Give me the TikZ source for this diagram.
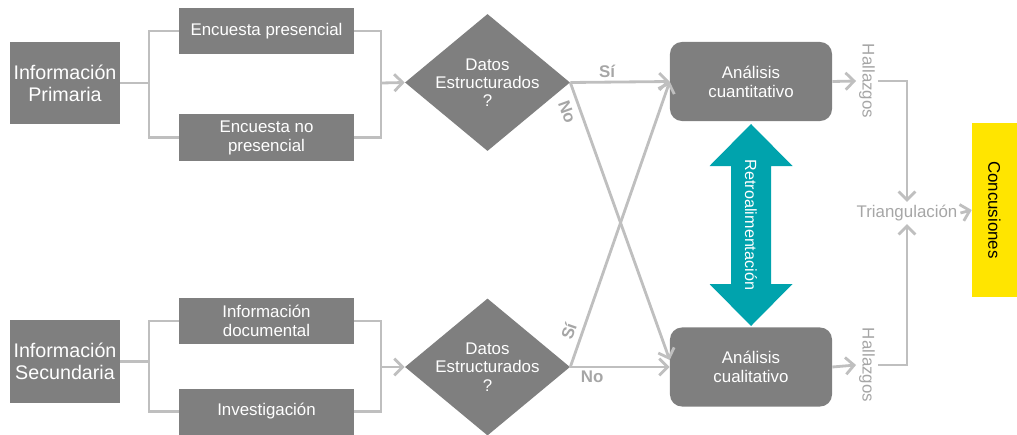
\documentclass[tikz,border=0pt]{standalone}
\usepackage{fontspec}
\setmainfont{Liberation Sans}
\usetikzlibrary{arrows.meta,shapes.geometric}
\definecolor{boxgray}{RGB}{127,127,127}
\definecolor{linegray}{RGB}{191,191,191}
\definecolor{txtgray}{RGB}{166,166,166}
\definecolor{fbteal}{RGB}{0,163,173}
\definecolor{concyellow}{RGB}{255,229,0}
\begin{document}
\begin{tikzpicture}[x=0.025cm, y=-0.025cm,
    src/.style={fill=boxgray, text=white, minimum width=2.75cm, minimum height=2.05cm, inner sep=0pt, align=center, font=\fontsize{14}{15.5}\selectfont},
    sub/.style={fill=boxgray, text=white, minimum width=4.375cm, minimum height=1.15cm, inner sep=0pt, align=center, font=\fontsize{12}{13.5}\selectfont},
    decision/.style={diamond, fill=boxgray, minimum width=4.125cm, minimum height=3.425cm, inner sep=0pt},
    dtext/.style={text=white, align=center, font=\fontsize{12}{13}\selectfont},
    ana/.style={fill=boxgray, text=white, rounded corners=0.3cm, minimum width=4.05cm, minimum height=1.975cm, inner sep=0pt, align=center, font=\fontsize{12}{13.5}\selectfont},
    note/.style={text=txtgray, inner sep=2pt, font=\fontsize{12}{13}\selectfont},
    yesno/.style={text=txtgray, inner sep=2pt, font=\bfseries\fontsize{12}{13}\selectfont},
    link/.style={draw=linegray, line width=2pt},
    arr/.style={link, -{Straight Barb[length=6pt, width=12pt]}}]
    \useasboundingbox (0,0) rectangle (1017,434);
    % fuentes primarias
    \node[src] (prim) at (65,83) {Información\\Primaria};
    \node[sub] (ep) at (266.5,31) {Encuesta presencial};
    \node[sub] (enp) at (266.5,137.5) {Encuesta no\\presencial};
    \coordinate (jl1) at (149,83);
    \coordinate (jr1) at (381,83);
    \draw[link] (prim) -- (jl1);
    \draw[link] (ep.west) -| (jl1) |- (enp.west);
    \draw[link] (ep.east) -| (jr1) |- (enp.east);
    % fuentes secundarias
    \node[src] (sec) at (65,361.5) {Información\\Secundaria};
    \node[sub] (doc) at (266.5,321) {Información\\documental};
    \node[sub] (inv) at (266.5,411.5) {Investigación};
    \coordinate (jl2) at (149,361.5);
    \coordinate (jr2) at (381,367);
    \draw[link] (sec) -- (jl2);
    \draw[link] (doc.west) -| (jl2) |- (inv.west);
    \draw[link] (doc.east) -| (jr2) |- (inv.east);
    % decisiones
    \node[decision] (d1) at (487.5,82.5) {};
    \node[dtext] (d1t) at (d1) {Datos\\Estructurados\\?};
    \node[decision] (d2) at (487.5,367) {};
    \node[dtext] (d2t) at (d2) {Datos\\Estructurados\\?};
    \draw[arr] (jr1) -- (d1.west);
    \draw[arr] (jr2) -- (d2.west);
    % analisis
    \node[ana] (aq) at (751,81.5) {Análisis\\cuantitativo};
    \node[ana] (al) at (751,367) {Análisis\\cualitativo};
    \draw[arr] (d1.east) -- (aq.west) node[yesno, pos=0.37, above] (si1) {Sí};
    \draw[arr] (d1.east) -- ([yshift=0.175cm]al.west) node[yesno, pos=0.09, sloped, below, inner sep=4pt] (no1) {No};
    \draw[arr] (d2.east) -- (al.west) node[yesno, pos=0.22, below] (no2) {No};
    \draw[arr] (d2.east) -- (aq.west) node[yesno, pos=0.11, sloped, above, inner sep=4pt] (si2) {Sí};
    % retroalimentacion
    \fill[fbteal] (751,124) -- (792.5,166) -- (771,166) -- (771,284) -- (792.5,284) -- (751,326)
        -- (709.5,284) -- (731,284) -- (731,166) -- (709.5,166) -- cycle;
    \node[rotate=-90, text=white, font=\fontsize{11.5}{12}\selectfont] (fb) at (751,225) {Retroalimentación};
    % hallazgos y triangulacion
    \node[note, rotate=-90] (h1) at (867,81) {Hallazgos};
    \node[note, rotate=-90] (h2) at (867,365) {Hallazgos};
    \node[note] (tri) at (907,213) {Triangulación};
    \draw[arr] (aq.east) -- (h1.south);
    \draw[arr] (al.east) -- (h2.south);
    \draw[arr] (h1.north) -| (tri.north);
    \draw[arr] (h2.north) -| (tri.south);
    \node[fill=concyellow, rotate=-90, minimum width=4.35cm, minimum height=1.125cm, inner sep=0pt, font=\fontsize{12}{13}\selectfont] (conc) at (994.5,210) {Concusiones};
    \draw[arr] (tri.east) -- (conc.south);
\end{tikzpicture}
\end{document}
